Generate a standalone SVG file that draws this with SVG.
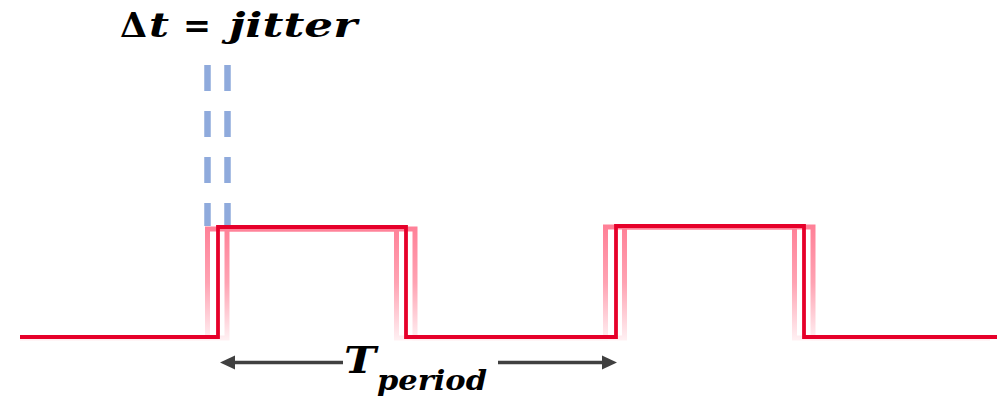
<svg xmlns="http://www.w3.org/2000/svg" width="997" height="398" viewBox="0 0 997 398">
<style>
.main{fill:none;stroke:#E6002A;stroke-width:3.8;stroke-linejoin:miter;stroke-linecap:butt}
.ghost{fill:none;stroke:url(#fade);stroke-width:5;stroke-linejoin:miter}
.dash{stroke:#8FAADC;stroke-width:6.5;stroke-dasharray:26 20}
.math{font-family:"DejaVu Serif","Liberation Serif",serif;font-weight:bold;fill:#000}
.it{font-style:italic}
.conn{stroke:#404040;stroke-width:3.5}
.head{fill:#404040}
</style>
<defs>
<linearGradient id="fade" gradientUnits="userSpaceOnUse" x1="0" y1="224" x2="0" y2="342">
<stop offset="0" stop-color="#FF7F96"/>
<stop offset="0.5" stop-color="#FFA3B3"/>
<stop offset="1" stop-color="#FFF3F5"/>
</linearGradient>
</defs>
<rect width="997" height="398" fill="#fff"/>
<g id="title">
<text class="math" x="120" y="37" font-size="34" font-weight="normal" textLength="27" lengthAdjust="spacingAndGlyphs">Δ</text>
<text class="math it" x="149" y="37" font-size="34" textLength="20" lengthAdjust="spacingAndGlyphs">t</text>
<text class="math" x="183" y="37" font-size="34" font-weight="normal" textLength="28" lengthAdjust="spacingAndGlyphs">=</text>
<text class="math it" x="229" y="37" font-size="34" textLength="128" lengthAdjust="spacingAndGlyphs">jitter</text>
</g>
<g id="jitter-markers">
<line class="dash" x1="207.5" y1="65" x2="207.5" y2="226"/>
<line class="dash" x1="227.5" y1="65" x2="227.5" y2="226"/>
</g>
<g id="ghost-early">
<path class="ghost" d="M20,338 H207.5 V229 H396.5 V338 H605.5 V227 H794.5 V338 H990"/>
</g>
<g id="ghost-late">
<path class="ghost" d="M20,338 H227 V229 H415 V338 H624.5 V227 H813 V338 H990"/>
</g>
<g id="signal">
<path class="main" d="M20,337 H218 V227 H406 V337 H616 V226 H804 V337 H997"/>
</g>
<g id="connectors">
<line class="conn" x1="232" y1="362.5" x2="343" y2="362.5"/>
<polygon class="head" points="220,362.5 235,355.5 235,369.5"/>
<line class="conn" x1="498" y1="362.5" x2="605" y2="362.5"/>
<polygon class="head" points="617,362.5 602,355.5 602,369.5"/>
</g>
<g id="period-label">
<text class="math it" x="344" y="373" font-size="38" textLength="32" lengthAdjust="spacingAndGlyphs">T</text>
<text class="math it" x="377" y="390" font-size="27" textLength="110" lengthAdjust="spacingAndGlyphs">period</text>
</g>
</svg>
